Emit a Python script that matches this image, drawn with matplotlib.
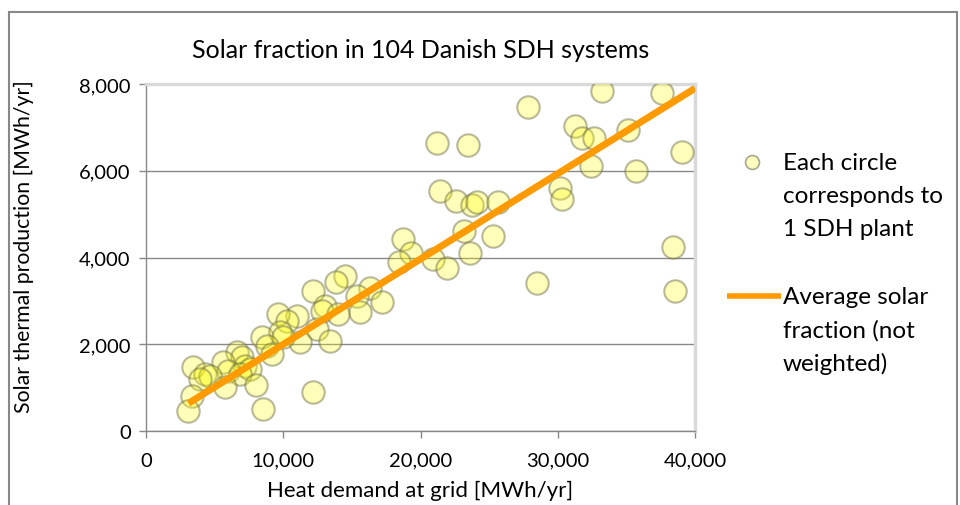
import matplotlib
matplotlib.use("Agg")
import matplotlib.pyplot as plt
from matplotlib.lines import Line2D
from matplotlib.patches import Rectangle
from matplotlib.ticker import FuncFormatter

plt.rcParams['font.family'] = ['Lato', 'DejaVu Sans']

# ---- data ----
heat_demand = [
    27855, 33202, 37574, 31257, 31745, 32641, 35097, 39031, 32423, 35679,
    30150, 30340, 38418, 38542, 21180, 23461, 21421, 22565, 23752, 24117,
    25647, 23170, 25282, 23607, 20889, 21909, 28466,
    18703, 19286, 18455, 14499, 13822, 12189, 16321, 15352, 17173, 13042,
    12801, 15592, 14011, 10980, 12437, 13406, 11220, 12146,
    9639, 10251, 8430, 9763, 10003, 8794, 9159, 6609, 6973, 7213,
    5632, 5997, 7577, 6849, 3447, 4299, 4663, 3934, 5756, 8015,
    3330, 3082, 8546,
]
solar_production = [
    7463, 7846, 7793, 7025, 6748, 6748, 6940, 6425, 6103, 5994,
    5602, 5348, 4235, 3235, 6633, 6594, 5533, 5303, 5217, 5279,
    5287, 4611, 4503, 4104, 3965, 3751, 3412,
    4427, 4104, 3889, 3580, 3442, 3235, 3290, 3119, 2967, 2875,
    2773, 2736, 2697, 2644, 2352, 2082, 2045, 892,
    2697, 2543, 2160, 2276, 2160, 1967, 1775, 1814, 1699, 1506,
    1584, 1390, 1429, 1314, 1469, 1314, 1275, 1199, 1007, 1061,
    814, 468, 507,
]
avg_line_x = [3100, 40000]
avg_line_y = [640, 7900]

title = "Solar fraction in 104 Danish SDH systems"
x_label = "Heat demand at grid [MWh/yr]"
y_label = "Solar thermal production [MWh/yr]"
x_ticks = [0, 10000, 20000, 30000, 40000]
y_ticks = [0, 2000, 4000, 6000, 8000]
legend_scatter = ["Each circle", "corresponds to", "1 SDH plant"]
legend_line = ["Average solar", "fraction (not", "weighted)"]

W, H = 960, 506
fig = plt.figure(figsize=(W / 100, H / 100), dpi=100)
ax = fig.add_axes([146 / W, 1 - 432 / H, (695 - 146) / W, (432 - 85) / H])

ax.set_xlim(0, 40000)
ax.set_ylim(0, 8000)

ax.scatter(heat_demand, solar_production, s=260,
           facecolor=(1, 1, 0, 0.27), edgecolor=(0.45, 0.45, 0.3, 0.5),
           linewidth=1.5, zorder=3)
ax.plot(avg_line_x, avg_line_y, color='#FF9A00', linewidth=5,
        solid_capstyle='butt', zorder=4)

ax.set_xticks(x_ticks)
ax.set_yticks(y_ticks)
fmt = FuncFormatter(lambda v, p: f"{int(v):,}")
ax.xaxis.set_major_formatter(fmt)
ax.yaxis.set_major_formatter(fmt)
ax.tick_params(axis='both', labelsize=14.5, colors='#000000', length=5,
               width=1, direction='out')
ax.tick_params(axis='x', pad=10)
ax.tick_params(axis='y', pad=6)
ax.tick_params(axis='both', color='#888888')
ax.grid(axis='y', color='#888888', linewidth=1)
ax.set_axisbelow(True)

for side in ['left', 'bottom']:
    ax.spines[side].set_color('#888888')
    ax.spines[side].set_linewidth(1)
for side in ['top', 'right']:
    ax.spines[side].set_color('#D9D9D9')
    ax.spines[side].set_linewidth(2.5)

fig.text(420 / W, 1 - 491 / H, x_label, fontsize=16, ha='center', va='center')
fig.text(24 / W, 1 - 247 / H, y_label, fontsize=15.3, ha='center', va='center',
         rotation=90)
fig.text(421 / W, 1 - 50 / H, title, fontsize=18, ha='center', va='center')

# outer chart border
fig.patches.append(Rectangle((9 / W, -0.1), (957 - 9) / W, 1.1 - 13 / H,
                             transform=fig.transFigure, fill=False,
                             edgecolor='#888888', linewidth=1.5))

# manual legend
fig.lines.append(Line2D([752 / W], [1 - 163 / H], transform=fig.transFigure,
                        marker='o', markersize=10, linestyle='none',
                        markerfacecolor='#FFFFC0', markeredgecolor='#A8A890',
                        markeredgewidth=1.2))
fig.lines.append(Line2D([727 / W, 781 / W], [1 - 297 / H, 1 - 297 / H],
                        transform=fig.transFigure, color='#FF9A00',
                        linewidth=4, solid_capstyle='butt'))
for i, t in enumerate(legend_scatter):
    fig.text(783 / W, 1 - (163 + 33.5 * i) / H, t, fontsize=17.5,
             ha='left', va='center')
for i, t in enumerate(legend_line):
    fig.text(783 / W, 1 - (297 + 33.5 * i) / H, t, fontsize=17.5,
             ha='left', va='center')

fig.savefig("out.png", dpi=100)
